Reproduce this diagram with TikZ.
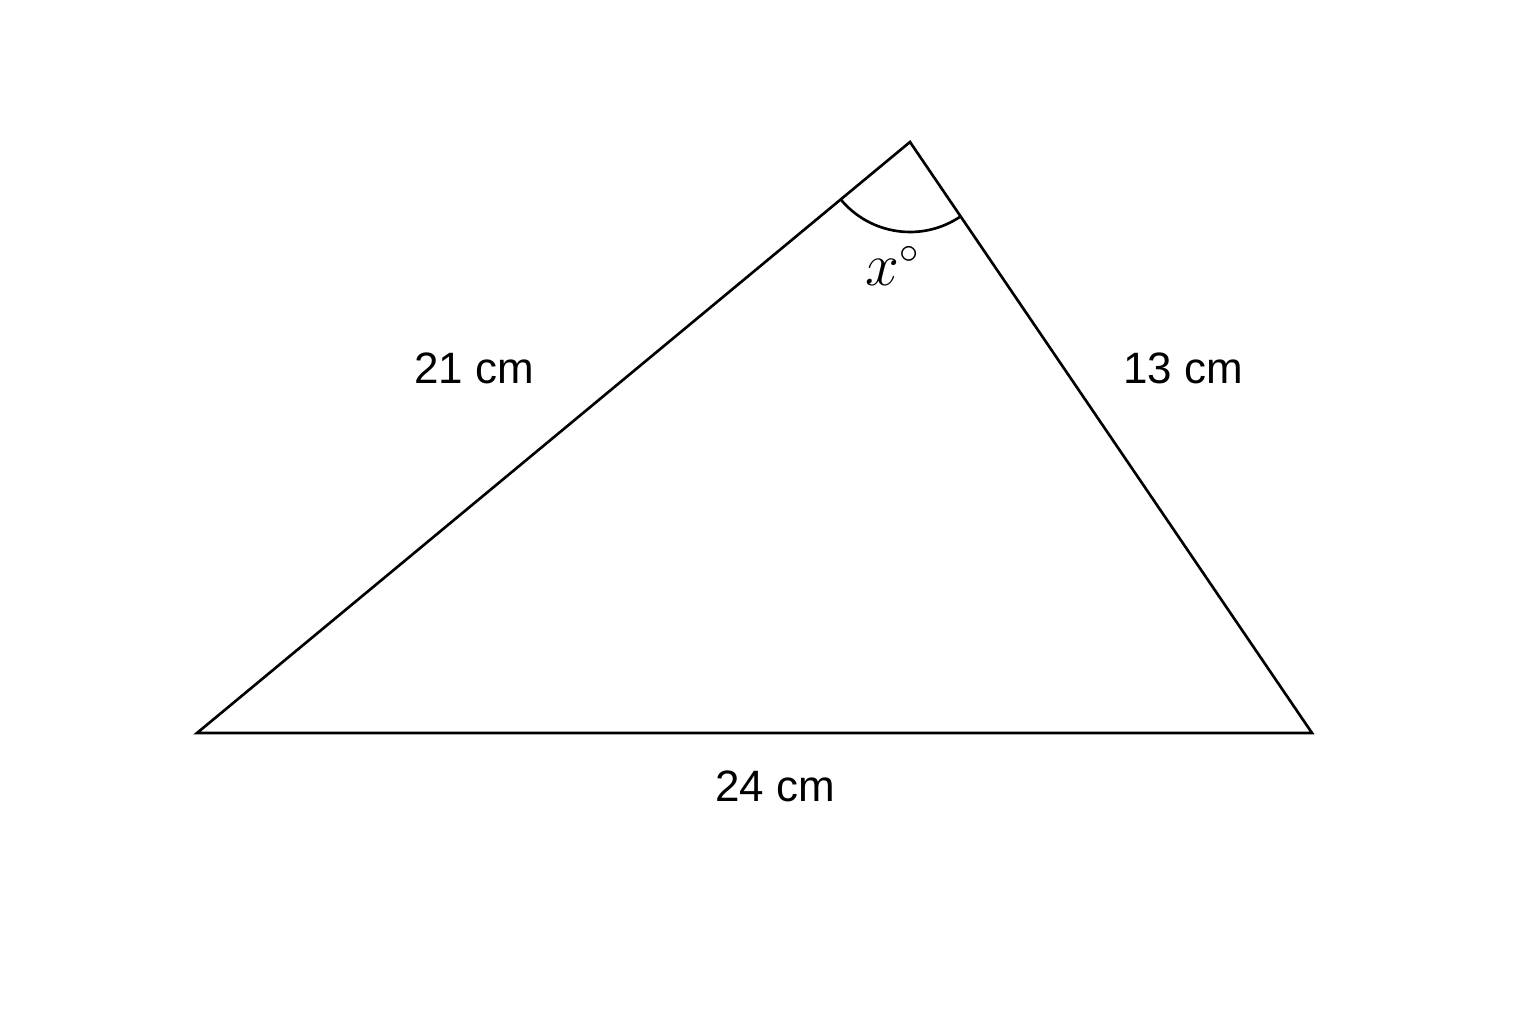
\documentclass[tikz,border=0pt]{standalone}
\usepackage{fontspec}
\setmainfont{Liberation Sans}
\usetikzlibrary{angles}
\begin{document}
\begin{tikzpicture}[line width=0.75pt, font=\fontsize{12.5}{15}\selectfont]
            \useasboundingbox (0,0) rectangle (15.36,10.24);
            \coordinate (A) at (1.97,2.91);
            \coordinate (B) at (13.12,2.91);
            \coordinate (C) at (9.10,8.82);
            \draw[line join=miter] (A)--(B)--(C)--cycle;
            \pic[draw, angle radius=0.9cm] {angle=A--C--B};
            \node (sideCA) at (4.74,6.56) {21 cm};
            \node (sideCB) at (11.83,6.56) {13 cm};
            \node (sideAB) at (7.75,2.38) {24 cm};
            \node[font=\fontsize{16}{19}\selectfont] (angleC) at (8.93,7.58) {$x^\circ$};
    \end{tikzpicture}
\end{document}
